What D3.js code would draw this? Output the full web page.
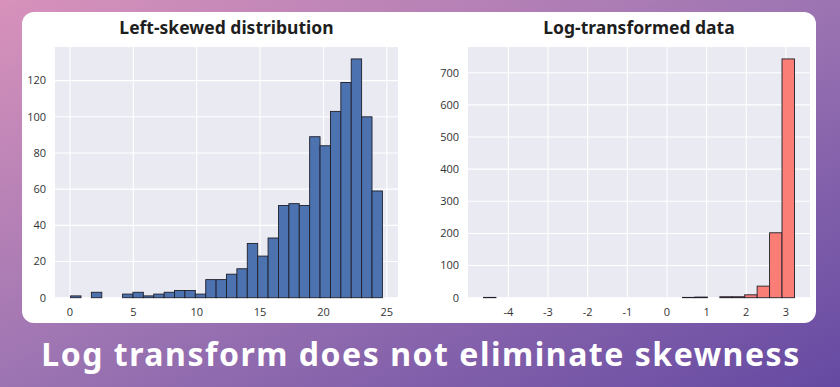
<!DOCTYPE html>
<html>
<head>
<meta charset="utf-8">
<script src="https://cdn.jsdelivr.net/npm/d3@7"></script>
<style>
  html, body { margin: 0; padding: 0; }
  body { width: 840px; height: 387px; overflow: hidden; }
  .tick-label { font-family: "Open Sans", sans-serif; font-size: 11px; fill: #333; }
  .title { font-family: "Noto Sans", sans-serif; font-weight: 700; fill: #1e1e1e; }
</style>
</head>
<body>
<div id="chart"></div>
<script>
// Left panel: histogram of raw values, 30 bins
var leftRange = [0.05, 24.65];
var leftCounts = [1, 0, 3, 0, 0, 2, 3, 1, 2, 3, 4, 4, 2, 10, 10,
                  13, 16, 30, 23, 33, 51, 52, 51, 89, 84, 103, 119, 132, 100, 59];
var leftXTicks = [0, 5, 10, 15, 20, 25];
var leftYTicks = [0, 20, 40, 60, 80, 100, 120];

// Right panel: histogram of log values, 25 bins
var rightRange = [-4.625, 3.215];
var rightCounts = [1, 0, 0, 0, 0, 0, 0, 0, 0, 0, 0, 0, 0, 0, 0, 0,
                   1, 2, 0, 3, 3, 9, 36, 202, 743];
var rightXTicks = [-4, -3, -2, -1, 0, 1, 2, 3];
var rightYTicks = [0, 100, 200, 300, 400, 500, 600, 700];

var titles = ["Left-skewed distribution", "Log-transformed data"];
var caption = "Log transform does not eliminate skewness";

var W = 840, H = 387;

var svg = d3.select("#chart").append("svg")
    .attr("width", W)
    .attr("height", H);

// background gradient
var defs = svg.append("defs");
var grad = defs.append("linearGradient")
    .attr("id", "bg")
    .attr("x1", "0%").attr("y1", "0%")
    .attr("x2", "100%").attr("y2", "100%");
grad.append("stop").attr("offset", "0%").attr("stop-color", "#d892bb");
grad.append("stop").attr("offset", "50%").attr("stop-color", "#9c74b2");
grad.append("stop").attr("offset", "100%").attr("stop-color", "#6549a2");

svg.append("rect")
    .attr("width", W).attr("height", H)
    .attr("fill", "url(#bg)");

// white card
svg.append("rect")
    .attr("x", 22).attr("y", 12)
    .attr("width", 794).attr("height", 311)
    .attr("rx", 12).attr("ry", 12)
    .attr("fill", "#ffffff");

function histogram(opts) {
    var n = opts.counts.length;
    var step = (opts.range[1] - opts.range[0]) / n;
    var span = opts.range[1] - opts.range[0];
    var maxCount = d3.max(opts.counts);

    var x = d3.scaleLinear()
        .domain([opts.range[0] - span * 0.05, opts.range[1] + span * 0.05])
        .range([opts.left, opts.right]);
    var y = d3.scaleLinear()
        .domain([0, maxCount * 1.05])
        .range([opts.bottom, opts.top]);

    var g = svg.append("g");

    // plot background
    g.append("rect")
        .attr("x", opts.left).attr("y", opts.top)
        .attr("width", opts.right - opts.left)
        .attr("height", opts.bottom - opts.top)
        .attr("fill", "#eaeaf2");

    // grid
    g.selectAll(".vgrid").data(opts.xTicks).enter().append("line")
        .attr("x1", function(d) { return x(d); })
        .attr("x2", function(d) { return x(d); })
        .attr("y1", opts.top).attr("y2", opts.bottom)
        .attr("stroke", "#ffffff").attr("stroke-width", 1.1);
    g.selectAll(".hgrid").data(opts.yTicks).enter().append("line")
        .attr("x1", opts.left).attr("x2", opts.right)
        .attr("y1", function(d) { return y(d); })
        .attr("y2", function(d) { return y(d); })
        .attr("stroke", "#ffffff").attr("stroke-width", 1.1);

    // bars
    var bins = opts.counts.map(function(c, i) {
        return { x0: opts.range[0] + i * step, x1: opts.range[0] + (i + 1) * step, count: c };
    }).filter(function(b) { return b.count > 0; });

    g.selectAll(".bar").data(bins).enter().append("rect")
        .attr("x", function(d) { return x(d.x0); })
        .attr("width", function(d) { return x(d.x1) - x(d.x0); })
        .attr("y", function(d) { return y(d.count); })
        .attr("height", function(d) { return y(0) - y(d.count); })
        .attr("fill", opts.color)
        .attr("stroke", "#1f1f2a")
        .attr("stroke-width", 0.9);

    // tick labels
    g.selectAll(".xt").data(opts.xTicks).enter().append("text")
        .attr("class", "tick-label")
        .attr("x", function(d) { return x(d); })
        .attr("y", opts.bottom + 18)
        .attr("text-anchor", "middle")
        .text(function(d) { return d; });
    g.selectAll(".yt").data(opts.yTicks).enter().append("text")
        .attr("class", "tick-label")
        .attr("x", opts.left - 9)
        .attr("y", function(d) { return y(d); })
        .attr("dy", "0.35em")
        .attr("text-anchor", "end")
        .text(function(d) { return d; });

    // title
    g.append("text")
        .attr("class", "title")
        .attr("x", (opts.left + opts.right) / 2)
        .attr("y", 34)
        .attr("text-anchor", "middle")
        .style("font-size", "17.5px")
        .text(opts.title);
}

histogram({
    counts: leftCounts, range: leftRange,
    xTicks: leftXTicks, yTicks: leftYTicks,
    left: 55, right: 398, top: 47, bottom: 297.7,
    color: "#4c72b0", title: titles[0]
});

histogram({
    counts: rightCounts, range: rightRange,
    xTicks: rightXTicks, yTicks: rightYTicks,
    left: 468, right: 810, top: 47, bottom: 297.7,
    color: "#fa7e76", title: titles[1]
});

// caption, spread to the width of the original lettering
var cap = svg.append("text")
    .attr("x", 421)
    .attr("y", 366)
    .attr("text-anchor", "middle")
    .style("font-family", "'Noto Sans', sans-serif")
    .style("font-weight", "700")
    .style("font-size", "32px")
    .style("fill", "#ffffff")
    .text(caption);
var capW = cap.node().getComputedTextLength();
cap.style("letter-spacing", ((758 - capW) / (caption.length - 1)) + "px");
</script>
</body>
</html>
